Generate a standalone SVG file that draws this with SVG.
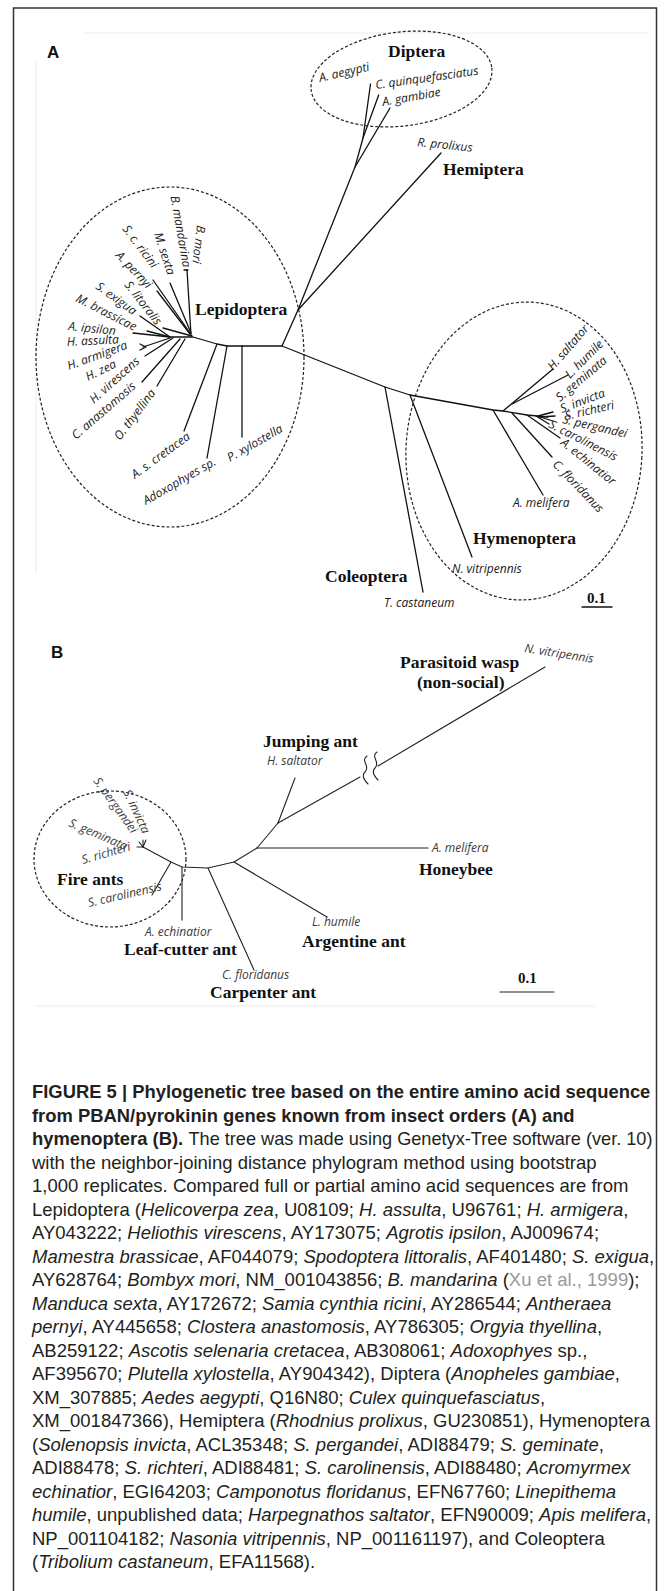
<svg xmlns="http://www.w3.org/2000/svg" width="671" height="1591" viewBox="0 0 671 1591">
<style>
.ln{stroke:#111;stroke-width:1.3;fill:none;stroke-linecap:round;stroke-linejoin:round}
.lb{stroke:#222;stroke-width:1.1;fill:none;stroke-linecap:round;stroke-linejoin:round}
.el{fill:none;stroke:#222;stroke-width:1.2;stroke-dasharray:3 2}
.faint{stroke:#ececec;stroke-width:1;fill:none}
.sp{font-family:"Open Sans","DejaVu Sans",sans-serif;font-style:italic;font-size:12px;fill:#1a1a1a}
.spb{font-family:"Open Sans","DejaVu Sans",sans-serif;font-style:italic;font-size:12px;fill:#3a3a3a}
.grp{font-family:"Liberation Serif","Times New Roman",serif;font-weight:bold;font-size:17.5px;fill:#111}
.pl{font-family:"Liberation Sans",Arial,sans-serif;font-weight:bold;font-size:17px;fill:#111}
.sc{font-family:"Liberation Serif","Times New Roman",serif;font-weight:bold;font-size:15px;fill:#111}
.cap{font-family:"Liberation Sans",Arial,sans-serif;font-size:18.5px;fill:#231f20}
.b{font-weight:bold;font-size:18.4px}
.i{font-style:italic}
.g{fill:#9a9a9a}
</style>

<g id="frame">
<rect x="13.5" y="8" width="643" height="1600" fill="none" stroke="#333" stroke-width="1.5"/>
<line class="faint" x1="83" y1="33" x2="648" y2="33"/>
<line class="faint" x1="36" y1="60" x2="36" y2="573"/>
<line class="faint" x1="36" y1="1006" x2="595" y2="1006"/>
</g>

<g id="panel-labels">
<text class="pl" x="47" y="58">A</text>
<text class="pl" x="51" y="658">B</text>
</g>

<g id="connectors-A">
<polyline class="ln" points="298,310 355,167 363,138 370.5,84"/>
<line class="ln" x1="363" y1="138" x2="378.7" y2="95"/>
<line class="ln" x1="355" y1="167" x2="390" y2="108"/>
<line class="ln" x1="298" y1="310" x2="441" y2="153"/>
<polyline class="ln" points="282,346 298,310"/>
<polyline class="ln" points="170,337 193,337 217,344 227,346 282,346 385,387 410,395 493,410 503,411 527,415 548,417"/>
<line class="ln" x1="187" y1="270" x2="191" y2="335"/>
<line class="ln" x1="184" y1="270" x2="188" y2="270"/>
<line class="ln" x1="170" y1="283" x2="191" y2="333"/>
<line class="ln" x1="153" y1="280" x2="190" y2="333"/>
<line class="ln" x1="157" y1="291" x2="190" y2="334"/>
<line class="ln" x1="163" y1="328" x2="192" y2="336"/>
<line class="ln" x1="140" y1="316" x2="170" y2="337"/>
<line class="ln" x1="147" y1="331" x2="170" y2="337"/>
<line class="ln" x1="133" y1="333" x2="170" y2="337"/>
<line class="ln" x1="143" y1="347" x2="170" y2="338"/>
<polyline class="ln" points="140,344 146,347 140,350"/>
<line class="ln" x1="145" y1="356" x2="173" y2="338"/>
<line class="ln" x1="142" y1="382" x2="180" y2="339"/>
<line class="ln" x1="157" y1="386" x2="185" y2="339"/>
<line class="ln" x1="217" y1="344" x2="184" y2="431"/>
<line class="ln" x1="227" y1="346" x2="207" y2="458"/>
<line class="ln" x1="242" y1="346" x2="242" y2="437"/>
<line class="ln" x1="385" y1="387" x2="423" y2="592"/>
<line class="ln" x1="410" y1="395" x2="472" y2="557"/>
<line class="ln" x1="493" y1="410" x2="543" y2="495"/>
<line class="ln" x1="503" y1="411" x2="553" y2="369"/>
<line class="ln" x1="512" y1="404" x2="568" y2="375"/>
<line class="ln" x1="512" y1="413" x2="552" y2="457"/>
<line class="ln" x1="527" y1="415" x2="560" y2="438"/>
<line class="ln" x1="538" y1="416" x2="553" y2="412"/>
<line class="ln" x1="540" y1="417" x2="555" y2="416"/>
<line class="ln" x1="540" y1="417" x2="553" y2="421"/>
<line class="ln" x1="536" y1="416" x2="549" y2="424"/>
<line class="ln" x1="582" y1="607" x2="612" y2="607"/>
</g>

<g id="clade-diptera">
<ellipse class="el" cx="401.5" cy="79" rx="91" ry="47" transform="rotate(-7 401.5 79)"/>
<text class="grp" x="388" y="57">Diptera</text>
<text class="sp" transform="translate(320 82) rotate(-13)">A. aegypti</text>
<text class="sp" transform="translate(376 89) rotate(-8)">C. quinquefasciatus</text>
<text class="sp" transform="translate(383 106) rotate(-10)">A. gambiae</text>
</g>

<g id="clade-hemiptera">
<text class="sp" transform="translate(417 146) rotate(6)">R. prolixus</text>
<text class="grp" x="443" y="175">Hemiptera</text>
</g>

<g id="clade-lepidoptera">
<ellipse class="el" cx="170" cy="357" rx="134" ry="170"/>
<text class="grp" x="195" y="315">Lepidoptera</text>
<text class="sp" text-anchor="end" transform="translate(183 268) rotate(80)">B. mandarina</text>
<text class="sp" transform="translate(197 225) rotate(97)">B. mori</text>
<text class="sp" transform="translate(154 234) rotate(72)">M. sexta</text>
<text class="sp" transform="translate(122 229) rotate(53)">S. c. ricini</text>
<text class="sp" transform="translate(115 256) rotate(46)">A. pernyi</text>
<text class="sp" transform="translate(124 285) rotate(52)">S. litoralis</text>
<text class="sp" transform="translate(95 288) rotate(36)">S. exigua</text>
<text class="sp" transform="translate(75 301) rotate(27)">M. brassicae</text>
<text class="sp" transform="translate(68 330) rotate(6)">A. ipsilon</text>
<text class="sp" transform="translate(67 346) rotate(-3)">H. assulta</text>
<text class="sp" transform="translate(69 370) rotate(-20)">H. armigera</text>
<text class="sp" transform="translate(88 381) rotate(-26)">H. zea</text>
<text class="sp" transform="translate(94 404) rotate(-42)">H. virescens</text>
<text class="sp" transform="translate(76 440) rotate(-41)">C. anastomosis</text>
<text class="sp" transform="translate(120 441) rotate(-53)">O. thyellina</text>
<text class="sp" transform="translate(135 479) rotate(-36)">A. s. cretacea</text>
<text class="sp" transform="translate(146 505) rotate(-30)">Adoxophyes sp.</text>
<text class="sp" transform="translate(230 462) rotate(-30)">P. xylostella</text>
</g>

<g id="clade-hymenoptera">
<ellipse class="el" cx="524" cy="451" rx="118" ry="149" transform="rotate(3 524 451)"/>
<text class="grp" x="473" y="544">Hymenoptera</text>
<text class="sp" transform="translate(553 371) rotate(-49)">H. saltator</text>
<text class="sp" transform="translate(570 379) rotate(-45)">L. humile</text>
<text class="sp" transform="translate(560 402) rotate(-40)">S. geminata</text>
<text class="sp" transform="translate(562 413) rotate(-21)">S. invicta</text>
<text class="sp" transform="translate(566 420) rotate(-13)">S. richteri</text>
<text class="sp" transform="translate(562 423) rotate(13)">S. pergandei</text>
<text class="sp" transform="translate(548 427) rotate(27)">S. carolinensis</text>
<text class="sp" transform="translate(560 444) rotate(39)">A. echinatior</text>
<text class="sp" transform="translate(552 465) rotate(46)">C. floridanus</text>
<text class="sp" x="513" y="507">A. melifera</text>
<text class="sp" x="452" y="573">N. vitripennis</text>
</g>

<g id="clade-coleoptera">
<text class="grp" x="325" y="582">Coleoptera</text>
<text class="sp" x="384" y="607">T. castaneum</text>
</g>

<g id="scale-A">
<text class="sc" x="587" y="603">0.1</text>
</g>

<g id="connectors-B">
<line class="lb" x1="545" y1="667" x2="378" y2="766"/>
<path class="lb" d="M367,756 c-7,5 4,10 -2,16 c-4,4 0,9 3,12"/>
<path class="lb" d="M377,752 c-7,5 4,10 -2,16 c-4,4 0,9 3,12"/>
<line class="lb" x1="360" y1="777" x2="278" y2="823"/>
<line class="lb" x1="295" y1="778" x2="278" y2="823"/>
<line class="lb" x1="278" y1="823" x2="257" y2="848"/>
<line class="lb" x1="257" y1="848" x2="428" y2="848"/>
<polyline class="lb" points="257,848 234,862 208,868 182,867 171,862 143,847"/>
<line class="lb" x1="234" y1="862" x2="327" y2="917"/>
<line class="lb" x1="208" y1="868" x2="254" y2="970"/>
<line class="lb" x1="182" y1="867" x2="182" y2="920"/>
<line class="lb" x1="171" y1="862" x2="152" y2="895"/>
<line class="lb" x1="143" y1="847" x2="137" y2="847"/>
<line class="lb" x1="143" y1="847" x2="139" y2="842"/>
<line class="lb" x1="143" y1="847" x2="143" y2="840"/>
<line class="lb" x1="143" y1="847" x2="146" y2="840"/>
<line class="lb" x1="500" y1="992" x2="554" y2="992"/>
</g>

<g id="node-parasitoid">
<text class="spb" transform="translate(524 652) rotate(9)">N. vitripennis</text>
<text class="grp" x="400" y="668">Parasitoid wasp</text>
<text class="grp" x="417" y="688">(non-social)</text>
</g>
<g id="node-jumping">
<text class="grp" x="263" y="747">Jumping ant</text>
<text class="spb" x="267" y="765">H. saltator</text>
</g>
<g id="node-honeybee">
<text class="spb" x="432" y="852">A. melifera</text>
<text class="grp" x="419" y="875">Honeybee</text>
</g>
<g id="node-fireants">
<ellipse class="el" cx="110" cy="859" rx="76" ry="68"/>
<text class="grp" x="57" y="885">Fire ants</text>
<text class="spb" transform="translate(123 792) rotate(65)">S. invicta</text>
<text class="spb" transform="translate(93 781) rotate(54)">S. pergandei</text>
<text class="spb" transform="translate(68 826) rotate(23)">S. geminata</text>
<text class="spb" transform="translate(83 864) rotate(-16)">S. richteri</text>
<text class="spb" transform="translate(89 907) rotate(-13)">S. carolinensis</text>
</g>
<g id="node-leafcutter">
<text class="spb" x="145" y="936">A. echinatior</text>
<text class="grp" x="124" y="955">Leaf-cutter ant</text>
</g>
<g id="node-argentine">
<text class="spb" x="312" y="926">L. humile</text>
<text class="grp" x="302" y="947">Argentine ant</text>
</g>
<g id="node-carpenter">
<text class="spb" x="222" y="979">C. floridanus</text>
<text class="grp" x="210" y="998">Carpenter ant</text>
</g>
<g id="scale-B">
<text class="sc" x="518" y="983">0.1</text>
</g>

<g id="caption" class="cap">
<text x="32" y="1098" class="b">FIGURE 5 | Phylogenetic tree based on the entire amino acid sequence</text>
<text x="32" y="1121.5" class="b">from PBAN/pyrokinin genes known from insect orders (A) and</text>
<text x="32" y="1145" class="b">hymenoptera (B).</text>
<text x="188.5" y="1145" textLength="464" lengthAdjust="spacingAndGlyphs">The tree was made using Genetyx-Tree software (ver. 10)</text>
<text x="32" y="1168.5">with the neighbor-joining distance phylogram method using bootstrap</text>
<text x="32" y="1192">1,000 replicates. Compared full or partial amino acid sequences are from</text>
<text x="32" y="1215.5">Lepidoptera (<tspan class="i">Helicoverpa zea</tspan>, U08109; <tspan class="i">H. assulta</tspan>, U96761; <tspan class="i">H. armigera</tspan>,</text>
<text x="32" y="1239">AY043222; <tspan class="i">Heliothis virescens</tspan>, AY173075; <tspan class="i">Agrotis ipsilon</tspan>, AJ009674;</text>
<text x="32" y="1262.5"><tspan class="i">Mamestra brassicae</tspan>, AF044079; <tspan class="i">Spodoptera littoralis</tspan>, AF401480; <tspan class="i">S. exigua</tspan>,</text>
<text x="32" y="1286">AY628764; <tspan class="i">Bombyx mori</tspan>, NM_001043856; <tspan class="i">B. mandarina</tspan> (<tspan class="g">Xu et al., 1999</tspan>);</text>
<text x="32" y="1309.5"><tspan class="i">Manduca sexta</tspan>, AY172672; <tspan class="i">Samia cynthia ricini</tspan>, AY286544; <tspan class="i">Antheraea</tspan></text>
<text x="32" y="1333"><tspan class="i">pernyi</tspan>, AY445658; <tspan class="i">Clostera anastomosis</tspan>, AY786305; <tspan class="i">Orgyia thyellina</tspan>,</text>
<text x="32" y="1356.5">AB259122; <tspan class="i">Ascotis selenaria cretacea</tspan>, AB308061; <tspan class="i">Adoxophyes</tspan> sp.,</text>
<text x="32" y="1380">AF395670; <tspan class="i">Plutella xylostella</tspan>, AY904342), Diptera (<tspan class="i">Anopheles gambiae</tspan>,</text>
<text x="32" y="1403.5">XM_307885; <tspan class="i">Aedes aegypti</tspan>, Q16N80; <tspan class="i">Culex quinquefasciatus</tspan>,</text>
<text x="32" y="1427">XM_001847366), Hemiptera (<tspan class="i">Rhodnius prolixus</tspan>, GU230851), Hymenoptera</text>
<text x="32" y="1450.5">(<tspan class="i">Solenopsis invicta</tspan>, ACL35348; <tspan class="i">S. pergandei</tspan>, ADI88479; <tspan class="i">S. geminate</tspan>,</text>
<text x="32" y="1474">ADI88478; <tspan class="i">S. richteri</tspan>, ADI88481; <tspan class="i">S. carolinensis</tspan>, ADI88480; <tspan class="i">Acromyrmex</tspan></text>
<text x="32" y="1497.5"><tspan class="i">echinatior</tspan>, EGI64203; <tspan class="i">Camponotus floridanus</tspan>, EFN67760; <tspan class="i">Linepithema</tspan></text>
<text x="32" y="1521"><tspan class="i">humile</tspan>, unpublished data; <tspan class="i">Harpegnathos saltator</tspan>, EFN90009; <tspan class="i">Apis melifera</tspan>,</text>
<text x="32" y="1544.5">NP_001104182; <tspan class="i">Nasonia vitripennis</tspan>, NP_001161197), and Coleoptera</text>
<text x="32" y="1568">(<tspan class="i">Tribolium castaneum</tspan>, EFA11568).</text>
</g>
</svg>
